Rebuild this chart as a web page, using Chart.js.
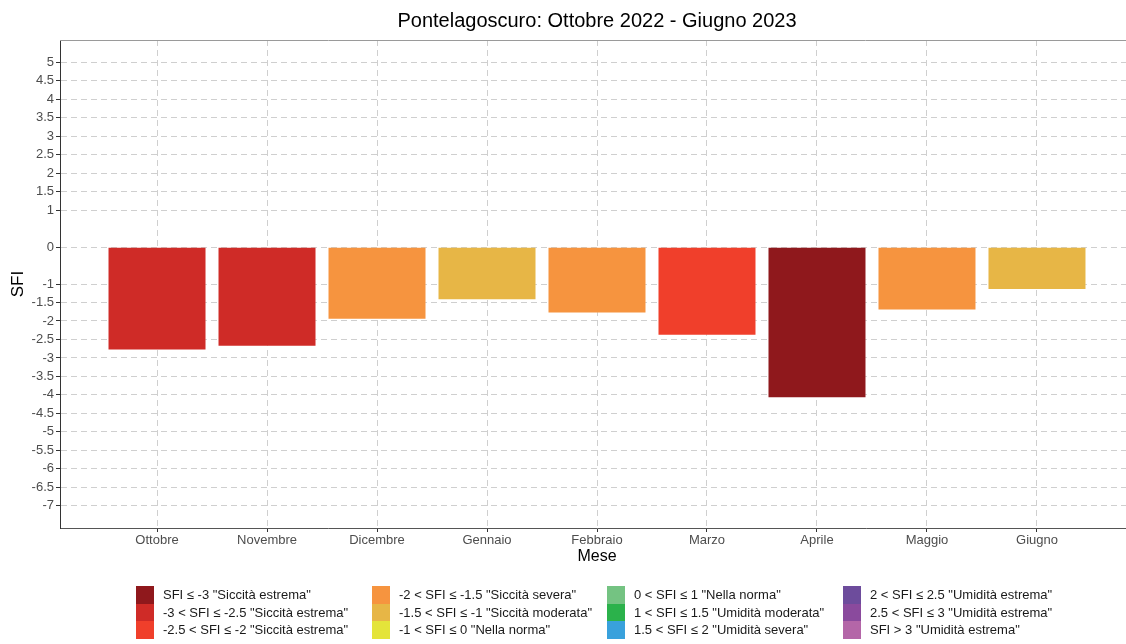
<!DOCTYPE html>
<html>
<head>
<meta charset="utf-8">
<script src="https://cdn.jsdelivr.net/npm/chart.js@4"></script>
<style>
  body { margin: 0; overflow: hidden; background: #fff; }
  #wrap { position: relative; width: 1134px; height: 644px; }
  #legend { position: absolute; left: 0; top: 0; font-family: "Liberation Sans", Arial, sans-serif; font-size: 13px; color: #1a1a1a; }
  .item { position: absolute; height: 17.5px; line-height: 17.5px; white-space: nowrap; }
  .sw { position: absolute; left: 0; top: 0; width: 17.5px; height: 17.5px; }
  .lb { position: absolute; left: 27px; top: 0; }
</style>
</head>
<body>
<div id="wrap">
  <canvas id="sfiChart"></canvas>
  <div id="legend"></div>
</div>
<script>
const months = ["Ottobre", "Novembre", "Dicembre", "Gennaio", "Febbraio", "Marzo", "Aprile", "Maggio", "Giugno"];
const sfi = [-2.80, -2.70, -1.97, -1.44, -1.80, -2.40, -4.09, -1.72, -1.16];
const yTicks = [5, 4.5, 4, 3.5, 3, 2.5, 2, 1.5, 1, 0, -1, -1.5, -2, -2.5, -3, -3.5, -4, -4.5, -5, -5.5, -6, -6.5, -7];

const classLabels = [
  'SFI ≤ -3 "Siccità estrema"',
  '-3 < SFI ≤ -2.5 "Siccità estrema"',
  '-2.5 < SFI ≤ -2 "Siccità estrema"',
  '-2 < SFI ≤ -1.5 "Siccità severa"',
  '-1.5 < SFI ≤ -1 "Siccità moderata"',
  '-1 < SFI ≤ 0 "Nella norma"',
  '0 < SFI ≤ 1 "Nella norma"',
  '1 < SFI ≤ 1.5 "Umidità moderata"',
  '1.5 < SFI ≤ 2 "Umidità severa"',
  '2 < SFI ≤ 2.5 "Umidità estrema"',
  '2.5 < SFI ≤ 3 "Umidità estrema"',
  'SFI > 3 "Umidità estrema"'
];
const classUpper = [-3, -2.5, -2, -1.5, -1, 0, 1, 1.5, 2, 2.5, 3, Infinity];
const classColors = ["#8f181c", "#cf2b27", "#f03f2b", "#f6943f", "#e7b646", "#e4e43a",
                     "#74c382", "#2bb24b", "#39a1dc", "#6d4c9c", "#8a4a9d", "#b466a8"];

function colorFor(v) {
  for (let i = 0; i < classUpper.length; i++) {
    if (v <= classUpper[i]) return classColors[i];
  }
  return classColors[classColors.length - 1];
}

// legend, 3 rows per column
const legendCols = [136, 372, 607, 843];
const legendTop = 586;
const legend = document.getElementById("legend");
classLabels.forEach((txt, i) => {
  const item = document.createElement("div");
  item.className = "item";
  item.style.left = legendCols[Math.floor(i / 3)] + "px";
  item.style.top = (legendTop + (i % 3) * 17.5) + "px";
  item.innerHTML = '<span class="sw" style="background:' + classColors[i] + '"></span><span class="lb"></span>';
  item.querySelector(".lb").textContent = txt;
  legend.appendChild(item);
});

const topBorder = {
  id: "topBorder",
  afterDraw(c) {
    const a = c.chartArea, ctx = c.ctx;
    ctx.save();
    ctx.strokeStyle = "#9a9a9a";
    ctx.lineWidth = 1;
    ctx.beginPath();
    ctx.moveTo(a.left, Math.round(a.top) + 0.5);
    ctx.lineTo(a.right, Math.round(a.top) + 0.5);
    ctx.stroke();
    ctx.restore();
  }
};

Chart.defaults.font.family = "'Liberation Sans', Arial, sans-serif";
Chart.defaults.animation = false;

new Chart(document.getElementById("sfiChart"), {
  type: "bar",
  data: {
    datasets: [{
      data: months.map((m, i) => ({ x: i + 1, y: sfi[i] })),
      backgroundColor: sfi.map(colorFor),
      borderColor: "rgba(255,255,255,0.3)",
      borderWidth: 1,
      categoryPercentage: 1,
      barPercentage: 0.9
    }]
  },
  options: {
    responsive: true,
    maintainAspectRatio: false,
    layout: { padding: { top: 0, right: 0, bottom: 78, left: 0 } },
    plugins: {
      legend: { display: false },
      tooltip: { enabled: false },
      title: {
        display: true,
        fullSize: false,
        text: "Pontelagoscuro: Ottobre 2022 - Giugno 2023",
        color: "#000",
        font: { size: 20, weight: "normal" },
        padding: { top: 9, bottom: 7 }
      }
    },
    scales: {
      x: {
        type: "linear",
        offset: false,
        min: 0.118,
        max: 9.882,
        afterBuildTicks: s => { s.ticks = months.map((m, i) => ({ value: i + 1 })); },
        afterFit: s => { s.height = 38; },
        ticks: {
          callback: (v) => months[v - 1],
          color: "#4d4d4d",
          font: { size: 13 },
          padding: 1,
          maxRotation: 0,
          autoSkip: false
        },
        grid: {
          offset: false,
          color: "#cfcfcf",
          tickColor: "#333",
          tickLength: 4,
          tickBorderDash: []
        },
        border: { display: true, color: "#555", width: 1, dash: [6, 4] },
        title: { display: true, text: "Mese", color: "#000", font: { size: 16 }, padding: { top: 0, bottom: 0 } }
      },
      y: {
        min: -7.6,
        max: 5.6,
        afterBuildTicks: s => { s.ticks = yTicks.map(v => ({ value: v })); },
        afterFit: s => { s.width = 60; },
        ticks: {
          callback: (v) => String(v),
          color: "#4d4d4d",
          font: { size: 13 },
          padding: 2,
          autoSkip: false
        },
        grid: {
          color: "#cfcfcf",
          tickColor: "#333",
          tickLength: 4,
          tickBorderDash: []
        },
        border: { display: true, color: "#333", width: 1, dash: [6, 4] },
        title: { display: true, text: "SFI", color: "#000", font: { size: 17 }, padding: { top: 8, bottom: 0 } }
      }
    }
  },
  plugins: [topBorder]
});
</script>
</body>
</html>
